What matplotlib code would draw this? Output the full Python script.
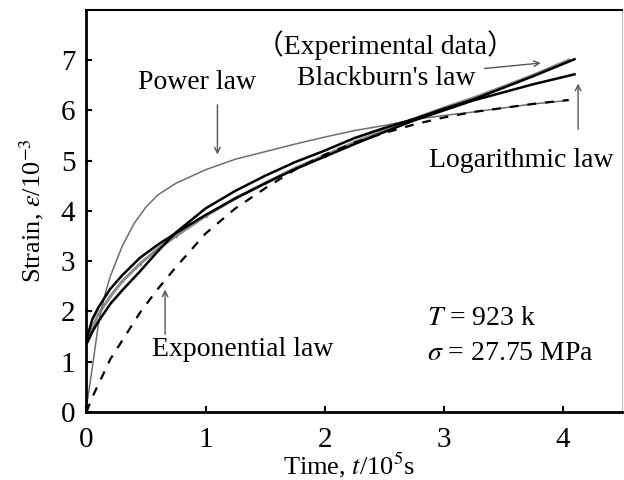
import numpy as np
import matplotlib.pyplot as plt

plt.rcParams['font.family'] = ['Liberation Serif', 'Noto Sans CJK SC', 'DejaVu Serif']
plt.rcParams['mathtext.fontset'] = 'stix'

# strain curves, time in 10^5 s, strain in 10^-3
t_power = [0, 0.05, 0.1, 0.15, 0.2, 0.3, 0.4, 0.5, 0.6, 0.75, 1.0, 1.25, 1.5, 1.75,
           2.0, 2.25, 2.5, 2.75, 3.0, 3.25, 3.5, 3.75, 4.05]
power_law = [0.1, 0.9, 1.75, 2.3, 2.7, 3.3, 3.75, 4.08, 4.32, 4.55, 4.82, 5.03, 5.18, 5.33,
             5.47, 5.6, 5.7, 5.82, 5.9, 5.97, 6.05, 6.13, 6.2]

t_fit = [0, 0.05, 0.1, 0.2, 0.3, 0.45, 0.6, 0.75, 1.0, 1.25, 1.5, 1.75, 2.0, 2.25,
         2.5, 2.75, 3.0, 3.25, 3.5, 3.75, 4.1]
log_law = [1.45, 1.85, 2.08, 2.45, 2.72, 3.07, 3.33, 3.56, 3.92, 4.25, 4.55, 4.83, 5.08, 5.33,
           5.57, 5.8, 6.0, 6.2, 6.36, 6.52, 6.72]
blackburn = [1.35, 1.6, 1.8, 2.15, 2.42, 2.8, 3.2, 3.57, 4.05, 4.4, 4.7, 4.97, 5.2, 5.45,
             5.65, 5.83, 6.03, 6.22, 6.45, 6.68, 7.02]

t_exp = [0, 0.1, 0.2, 0.3, 0.45, 0.6, 0.75, 1.0, 1.25, 1.5, 1.75, 2.0, 2.25, 2.5,
         2.75, 3.0, 3.25, 3.5, 3.75, 4.05]
experimental = [1.4, 1.95, 2.3, 2.6, 2.95, 3.25, 3.5, 3.9, 4.25, 4.55, 4.85, 5.1, 5.37, 5.6,
                5.83, 6.05, 6.25, 6.47, 6.7, 7.0]

t_expo = [0, 0.05, 0.1, 0.2, 0.3, 0.45, 0.6, 0.75, 1.0, 1.25, 1.5, 1.75, 2.0, 2.25,
          2.5, 2.75, 3.0, 3.25, 3.5, 3.75, 4.05]
expo_law = [0.0, 0.3, 0.55, 1.05, 1.42, 1.98, 2.45, 2.88, 3.55, 4.05, 4.45, 4.82, 5.12, 5.36,
            5.55, 5.72, 5.86, 5.97, 6.05, 6.13, 6.21]

fig = plt.figure(figsize=(6.24, 4.8), dpi=100)
ax = fig.add_axes([0.1386, 0.1417, 0.8584, 0.8375])

ax.plot(t_exp, experimental, color='#8c8c8c', lw=2.2, marker='.', ms=3)
ax.plot(t_power, power_law, color='#6e6e6e', lw=1.1)
ax.plot(t_fit, log_law, color='black', lw=1.8)
ax.plot(t_fit, blackburn, color='black', lw=1.8)
ax.plot(t_expo, expo_law, color='black', lw=1.6, dashes=(4, 4))

ax.set_xlim(0, 4.5)
ax.set_ylim(0, 8)
ax.set_xticks([0, 1, 2, 3, 4])
ax.set_yticks([0, 1, 2, 3, 4, 5, 6, 7])
ax.tick_params(direction='in', length=4, width=1.5, labelsize=21)
ax.tick_params(axis='x', pad=11)
ax.tick_params(axis='y', pad=8)

for s in ['left', 'bottom']:
    ax.spines[s].set_linewidth(2)
ax.spines['top'].set_linewidth(1.5)
ax.spines['right'].set_linewidth(0.8)
ax.spines['right'].set_color('#bbbbbb')

ax.set_xlabel('Time, $t$/10$^5$s', fontsize=19)
ax.set_ylabel('Strain, $\\varepsilon$/10$^{-3}$', fontsize=19)
ax.xaxis.set_label_coords(0.49, -0.097)
ax.yaxis.set_label_coords(-0.075, 0.5)

arr = dict(arrowstyle='->', color='#555555', lw=1)
fs = 20
ax.text(0.93, 6.55, 'Power law', fontsize=fs, ha='center', va='center')
ax.annotate('', xy=(1.1, 5.07), xytext=(1.1, 6.17), arrowprops=arr)
ax.text(2.51, 7.3, '（Experimental data）', fontsize=fs, ha='center', va='center')
ax.text(2.52, 6.63, "Blackburn's law", fontsize=fs, ha='center', va='center')
ax.annotate('', xy=(3.84, 6.95), xytext=(3.32, 6.83), arrowprops=arr)
ax.text(3.65, 5.0, 'Logarithmic law', fontsize=fs, ha='center', va='center')
ax.annotate('', xy=(4.13, 6.59), xytext=(4.13, 5.57), arrowprops=arr)
ax.text(1.31, 1.24, 'Exponential law', fontsize=fs, ha='center', va='center')
ax.annotate('', xy=(0.66, 2.49), xytext=(0.66, 1.49), arrowprops=arr)
ax.text(2.86, 1.87, '$T$ = 923 k', fontsize=fs, ha='left', va='center')
ax.text(2.86, 1.17, '$\\sigma$ = 27.75 MPa', fontsize=fs, ha='left', va='center')

plt.savefig('out.png', dpi=100)
